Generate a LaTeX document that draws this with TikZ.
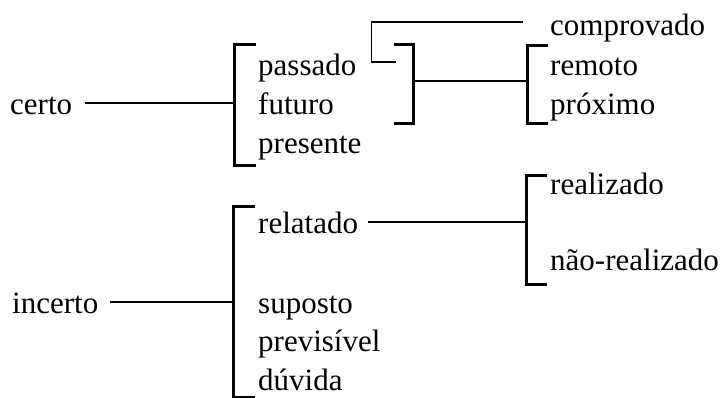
\documentclass[tikz,border=0pt]{standalone}
\usepackage{fontspec}
\setmainfont{Liberation Serif}
\begin{document}
\begin{tikzpicture}[x=1pt,y=-1pt,
		rotulo/.style={anchor=base west,inner sep=0pt,text height=22pt,text depth=0pt,font=\fontsize{31}{37}\selectfont},
		liga/.style={line width=1.5pt},
		colch/.style={line width=3pt,line join=miter}]
			\useasboundingbox (0,0) rectangle (725,397);
			\def\colchete(#1,#2,#3,#4){%x, topo, base, gancho
				\draw[colch] (#1+#4,#2)--(#1,#2)--(#1,#3)--(#1+#4,#3);
			}
			\foreach \nome/\texto/\x/\y in {certo/certo/10/114,incerto/incerto/12/313,
				passado/passado/258/75,futuro/futuro/258/114,presente/presente/258/153,
				comprovado/comprovado/550/35,remoto/remoto/550/75,proximo/próximo/550/114,
				realizado/realizado/550/194,naoreal/não-realizado/550/270,
				relatado/relatado/258/233,suposto/suposto/258/313,previsivel/previsível/258/351,duvida/dúvida/258/390}
				\node[rotulo] (\nome) at (\x,\y) {\texto};
			%colchetes
			\colchete(234,44,165,22)
			\colchete(413,44,123,-19)
			\colchete(527,45,123,21)
			\colchete(526,175,284,21)
			\colchete(233,206,397,22)
			\coordinate (bcerto) at (234,0);
			\coordinate (bincerto) at (233,0);
			\coordinate (breal) at (526,0);
			\coordinate (bfecha) at (413,81);
			\coordinate (bcompr) at (527,81);
			%ligacoes
			\draw[liga] ([xshift=13pt]certo.east)--(certo.east -| bcerto);
			\draw[liga] ([xshift=12pt]incerto.east)--(incerto.east -| bincerto);
			\draw[liga] ([xshift=10pt]relatado.east)--(relatado.east -| breal);
			\draw[liga] (bfecha)--(bcompr);
			\draw[liga] ([xshift=39pt,yshift=2pt]passado.east)--([xshift=15pt,yshift=2pt]passado.east) |- ([xshift=-27pt,yshift=2pt]comprovado.west);
		\end{tikzpicture}
\end{document}
